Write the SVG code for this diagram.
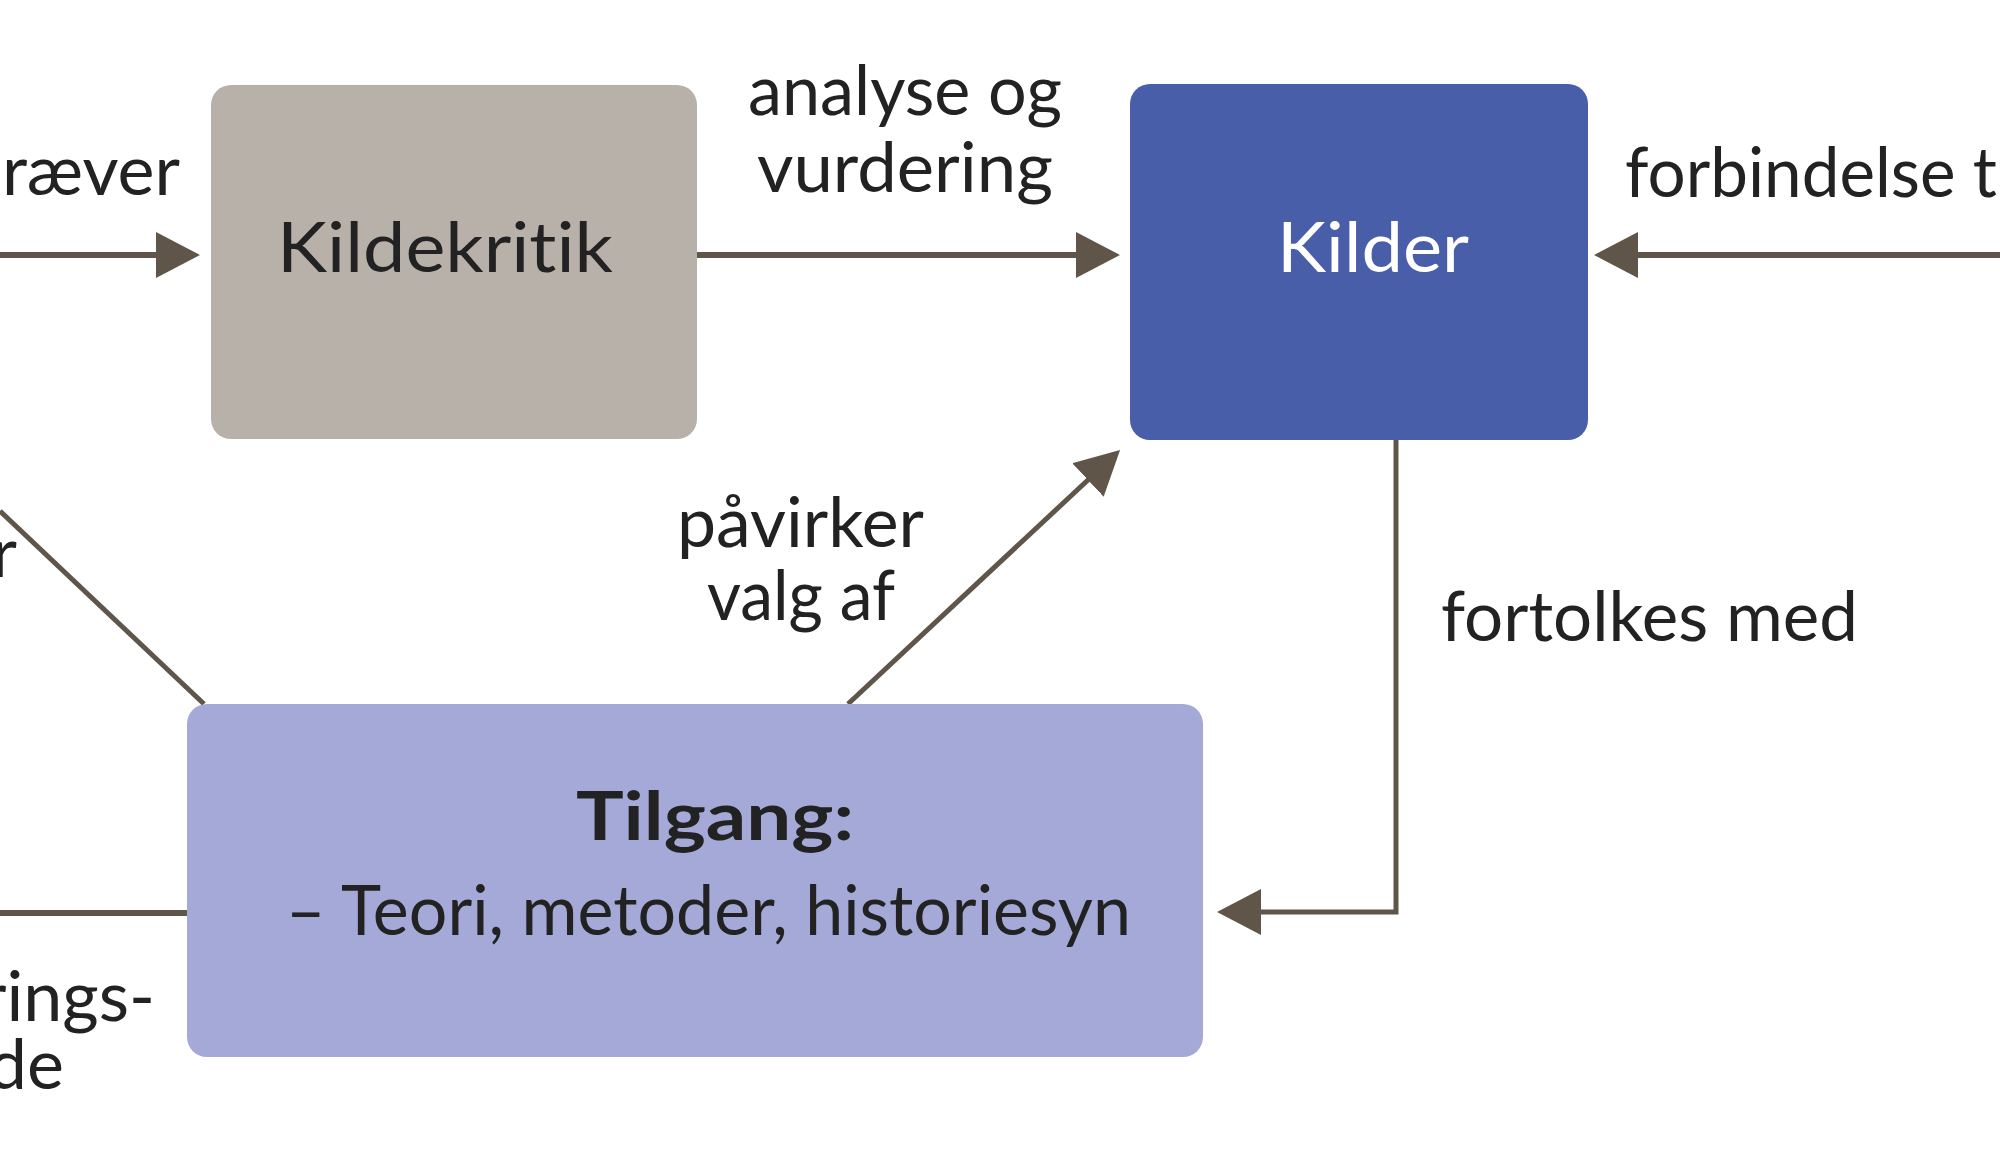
<svg xmlns="http://www.w3.org/2000/svg" width="2000" height="1165" viewBox="0 0 2000 1165">
<style>
  .lbl { font-family: Lato, "Liberation Sans", sans-serif; font-size: 70px; fill: #222222; font-variant-ligatures: none; font-feature-settings: "liga" 0, "clig" 0; }
  .conn { fill: none; stroke: #5f5548; stroke-width: 6; }
  .thin { stroke-width: 5; }
  .box { stroke: none; }
</style>
<defs>
  <marker id="ah" markerUnits="userSpaceOnUse" markerWidth="44" markerHeight="46" viewBox="0 0 44 46" refX="22" refY="23" orient="auto">
    <path d="M0,0 L44,23 L0,46 z" fill="#5f5548"/>
  </marker>
</defs>
<rect width="2000" height="1165" fill="#ffffff"/>

<g id="connectors">
  <path class="conn" d="M0,255 L178,255" marker-end="url(#ah)"/>
  <path class="conn" d="M697,255 L1098,255" marker-end="url(#ah)"/>
  <path class="conn" d="M2000,255 L1616,255" marker-end="url(#ah)"/>
  <path class="conn thin" d="M1396,440 L1396,912 L1239,912" marker-end="url(#ah)"/>
  <path class="conn thin" d="M848,704 L1104,465" marker-end="url(#ah)"/>
  <path class="conn thin" d="M0,511 L204,704"/>
  <path class="conn" d="M0,913 L187,913"/>
</g>

<g id="edge-labels">
  <text class="lbl" x="180" y="195" text-anchor="end">ræver</text>
  <text class="lbl" x="748" y="115" textLength="314" lengthAdjust="spacingAndGlyphs">analyse og</text>
  <text class="lbl" x="757" y="192" textLength="296" lengthAdjust="spacingAndGlyphs">vurdering</text>
  <text class="lbl" x="1625" y="197" textLength="372" lengthAdjust="spacingAndGlyphs">forbindelse t</text>
  <text class="lbl" x="677" y="547" textLength="247" lengthAdjust="spacingAndGlyphs">påvirker</text>
  <text class="lbl" x="707" y="620" textLength="188" lengthAdjust="spacingAndGlyphs">valg af</text>
  <text class="lbl" x="1441" y="641" textLength="417" lengthAdjust="spacingAndGlyphs">fortolkes med</text>
  <text class="lbl" x="17" y="577" text-anchor="end">r</text>
  <text class="lbl" x="155" y="1021" text-anchor="end">rings-</text>
  <text class="lbl" x="64" y="1089" text-anchor="end">de</text>
</g>

<g id="kildekritik">
  <rect class="box" x="211" y="85" width="486" height="354" rx="20" fill="#b8b1aa"/>
  <text class="lbl" x="277" y="272" textLength="336" lengthAdjust="spacingAndGlyphs">Kildekritik</text>
</g>

<g id="kilder">
  <rect class="box" x="1130" y="84" width="458" height="356" rx="20" fill="#485ea9"/>
  <text class="lbl" x="1277" y="272" textLength="192" lengthAdjust="spacingAndGlyphs" style="fill:#ffffff">Kilder</text>
</g>

<g id="tilgang">
  <rect class="box" x="187" y="704" width="1016" height="353" rx="20" fill="#a4a9d7"/>
  <text class="lbl" x="576" y="840" textLength="278" lengthAdjust="spacingAndGlyphs" style="font-weight:bold;font-size:66px">Tilgang:</text>
  <text class="lbl" x="286" y="935" textLength="845" lengthAdjust="spacingAndGlyphs">– Teori, metoder, historiesyn</text>
</g>
</svg>
